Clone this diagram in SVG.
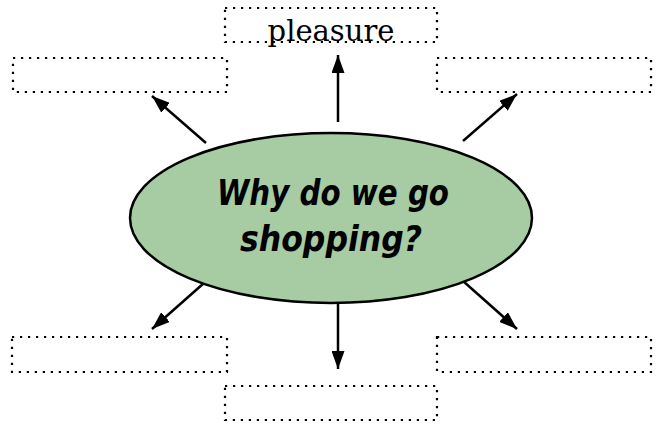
<svg xmlns="http://www.w3.org/2000/svg" width="659" height="425" viewBox="0 0 659 425">
<defs>
<marker id="ah" viewBox="0 0 10 10" refX="10" refY="5" markerWidth="18" markerHeight="13" orient="auto" markerUnits="userSpaceOnUse" preserveAspectRatio="none">
<path d="M0,0 L10,5 L0,10 z" fill="#000"/>
</marker>
<style>
.box{fill:none;stroke:#000;stroke-width:2.2;stroke-dasharray:2.2 5.8}
.conn{stroke:#000;stroke-width:2.5;fill:none;marker-end:url(#ah)}
.main{font-family:"Comic Sans MS","DejaVu Sans",sans-serif;font-weight:bold;font-style:italic;font-size:35px;fill:#000;text-anchor:middle}
.lbl{font-family:"DejaVu Serif","Liberation Serif",serif;font-size:29px;fill:#000;text-anchor:middle}
</style>
</defs>
<rect width="659" height="425" fill="#fff"/>
<g id="connectors">
<line class="conn" x1="338" y1="122" x2="338" y2="55"/>
<line class="conn" x1="206" y1="143" x2="152" y2="96"/>
<line class="conn" x1="463" y1="141" x2="517" y2="94"/>
<line class="conn" x1="204" y1="283" x2="152" y2="329"/>
<line class="conn" x1="338" y1="303" x2="338" y2="369"/>
<line class="conn" x1="463" y1="281" x2="517" y2="329"/>
</g>
<g id="box-top">
<rect class="box" x="225" y="8" width="212" height="34"/>
<text class="lbl" x="331" y="41">pleasure</text>
</g>
<g id="box-top-left"><rect class="box" x="13" y="58" width="214" height="34"/></g>
<g id="box-top-right"><rect class="box" x="437" y="58" width="214" height="34"/></g>
<g id="box-bottom-left"><rect class="box" x="12" y="337" width="215" height="35"/></g>
<g id="box-bottom-right"><rect class="box" x="437" y="337" width="214" height="35"/></g>
<g id="box-bottom"><rect class="box" x="225" y="386" width="212" height="34"/></g>
<g id="center">
<ellipse cx="331" cy="218" rx="201" ry="85" fill="#a7cba3" stroke="#000" stroke-width="2.5"/>
<text class="main" x="333" y="205" textLength="232" lengthAdjust="spacingAndGlyphs">Why do we go</text>
<text class="main" x="331" y="251" textLength="182" lengthAdjust="spacingAndGlyphs">shopping?</text>
</g>
</svg>
